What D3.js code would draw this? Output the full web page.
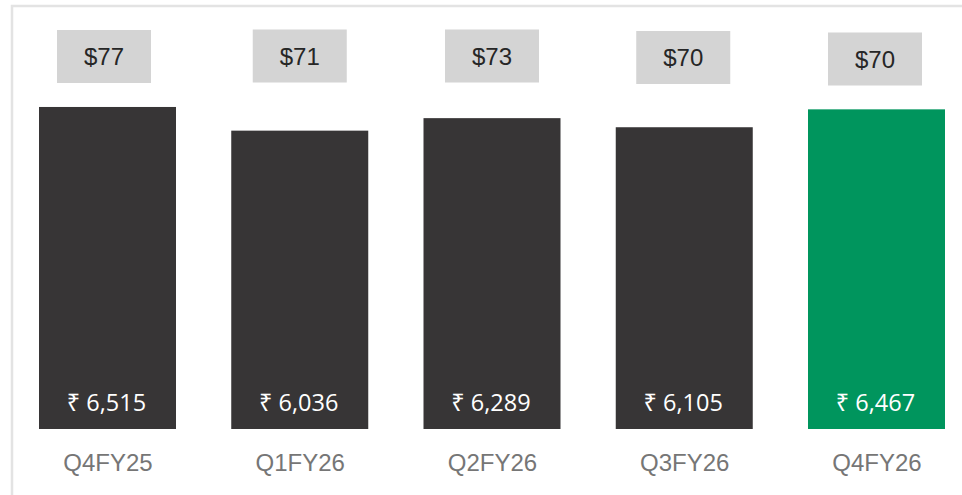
<!DOCTYPE html>
<html>
<head>
<meta charset="utf-8">
<script src="https://cdn.jsdelivr.net/npm/d3@7"></script>
<style>
  html, body { margin: 0; padding: 0; background: #fff; }
  svg { display: block; }
</style>
</head>
<body>
<div id="chart"></div>
<script>
// quarters, rupee bars and dollar labels
var quarters = ["Q4FY25", "Q1FY26", "Q2FY26", "Q3FY26", "Q4FY26"];
var rupeeValues = [6515, 6036, 6289, 6105, 6467];
var dollarValues = [77, 71, 73, 70, 70];
var highlight = [false, false, false, false, true];

// small nudges of the grey boxes (layout only)
var boxNudgeX = [-3.5, 0, 0, -1, -1.5];
var boxNudgeY = [0, -0.5, -0.5, 1, 2.5];

var width = 962,
    height = 495;

var svg = d3.select("#chart").append("svg")
    .attr("width", width)
    .attr("height", height);

svg.append("rect")
    .attr("width", width)
    .attr("height", height)
    .attr("fill", "#fff");

// frame: only the left and top edges show
svg.append("path")
    .attr("d", "M12,495 V6 H962")
    .attr("fill", "none")
    .attr("stroke", "#e3e3e3")
    .attr("stroke-width", 2.5);

var x = d3.scalePoint()
    .domain(quarters)
    .range([107.5, 876.5]);

var y = d3.scaleLinear()
    .domain([0, 7000])
    .range([429, 83]);

var barWidth = 137;

svg.selectAll(".bar").data(rupeeValues)
    .enter().append("rect")
    .attr("class", "bar")
    .attr("x", function(d, i) { return x(quarters[i]) - barWidth / 2; })
    .attr("y", function(d) { return y(d); })
    .attr("width", barWidth)
    .attr("height", function(d) { return y(0) - y(d); })
    .attr("fill", function(d, i) { return highlight[i] ? "#00955d" : "#373536"; });

svg.selectAll(".val").data(rupeeValues)
    .enter().append("text")
    .attr("class", "val")
    .attr("x", function(d, i) { return x(quarters[i]) - 1; })
    .attr("y", 411)
    .attr("text-anchor", "middle")
    .style("font-family", "'Open Sans', 'Noto Sans', sans-serif")
    .style("font-size", "23.5px")
    .style("fill", "#fff")
    .text(function(d) { return "\u20B9 " + d3.format(",")(d); });

// x axis labels
var xAxis = d3.axisBottom(x).tickSize(0).tickPadding(0);
var gx = svg.append("g")
    .attr("transform", "translate(0,454)")
    .call(xAxis);
gx.select(".domain").remove();
gx.selectAll("text")
    .attr("dy", "0.71em")
    .style("font-family", "'Liberation Sans', Arial, sans-serif")
    .style("font-size", "24px")
    .style("fill", "#767676");

// dollar boxes
var boxW = 94, boxH = 53;
var boxes = svg.selectAll(".box").data(dollarValues)
    .enter().append("g")
    .attr("class", "box")
    .attr("transform", function(d, i) {
        return "translate(" + (x(quarters[i]) + boxNudgeX[i]) + "," + (56.5 + boxNudgeY[i]) + ")";
    });

boxes.append("rect")
    .attr("x", -boxW / 2)
    .attr("y", -boxH / 2)
    .attr("width", boxW)
    .attr("height", boxH)
    .attr("fill", "#d4d4d4");

boxes.append("text")
    .attr("y", 8.5)
    .attr("text-anchor", "middle")
    .style("font-family", "'Liberation Sans', Arial, sans-serif")
    .style("font-size", "24px")
    .style("fill", "#262626")
    .text(function(d) { return "$" + d; });
</script>
</body>
</html>
